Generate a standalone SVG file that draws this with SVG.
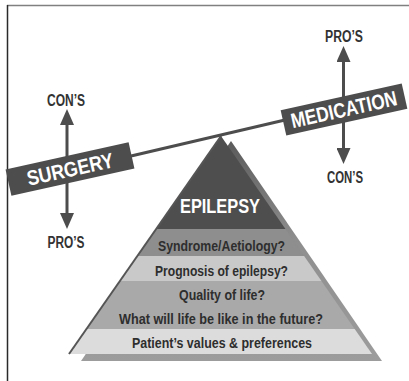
<svg xmlns="http://www.w3.org/2000/svg" width="409" height="381" viewBox="0 0 409 381">
  <style>
    .cond { font-family: "Liberation Sans Narrow", "Liberation Sans", Arial, sans-serif; font-weight: bold; }
    .lbl { font-size: 16px; fill: #333333; text-anchor: middle; }
    .band { font-size: 15px; fill: #2e2e2e; text-anchor: middle; }
    .boxtxt { font-size: 21px; fill: #ffffff; text-anchor: middle; }
    .dark { fill: #4d4d4d; }
    .shaft { stroke: #4d4d4d; stroke-width: 3; fill: none; }
  </style>
  <defs>
    <marker id="head" viewBox="0 0 16 14" refX="7" refY="7" markerWidth="16" markerHeight="14" markerUnits="userSpaceOnUse" orient="auto">
      <path d="M0,0 L16,7 L0,14 Z" fill="#4d4d4d"/>
    </marker>
    <clipPath id="pyr">
      <polygon points="221,136 69,354 372,354"/>
    </clipPath>
    <linearGradient id="shade" gradientUnits="userSpaceOnUse" x1="0" y1="140" x2="0" y2="361">
      <stop offset="0" stop-color="#5a5a5a"/>
      <stop offset="0.45" stop-color="#8e8e8e"/>
      <stop offset="1" stop-color="#9c9c9c"/>
    </linearGradient>
  </defs>

  <rect width="409" height="381" fill="#ffffff"/>

  <!-- panel frame -->
  <g id="frame">
    <line x1="7" y1="5.5" x2="409" y2="5.5" stroke="#808080" stroke-width="1.5"/>
    <line x1="7.5" y1="5" x2="7.5" y2="381" stroke="#2a2a2a" stroke-width="1.5"/>
  </g>

  <!-- pyramid: offset shade, then stacked bands -->
  <g id="epilepsy">
    <polygon points="231,141 81,361 382,361" fill="url(#shade)"/>
    <g clip-path="url(#pyr)">
      <rect x="60" y="130" width="320" height="99" fill="#4e4e4e"/>
      <rect x="60" y="229" width="320" height="27" fill="#8e8e8e"/>
      <rect x="60" y="256" width="320" height="25" fill="#c9c9c9"/>
      <rect x="60" y="281" width="320" height="48" fill="#a9a9a9"/>
      <rect x="60" y="329" width="320" height="25" fill="#dcdcdc"/>
    </g>
    <line x1="221" y1="136" x2="69" y2="354" stroke="#555555" stroke-width="2"/>
    <text class="cond boxtxt" x="220" y="212.5" textLength="80" lengthAdjust="spacingAndGlyphs">EPILEPSY</text>
    <text class="cond band" x="221.5" y="250.5" textLength="127" lengthAdjust="spacingAndGlyphs">Syndrome/Aetiology?</text>
    <text class="cond band" x="221.5" y="276" textLength="133" lengthAdjust="spacingAndGlyphs">Prognosis of epilepsy?</text>
    <text class="cond band" x="222" y="300" textLength="86" lengthAdjust="spacingAndGlyphs">Quality of life?</text>
    <text class="cond band" x="221" y="323.5" textLength="204" lengthAdjust="spacingAndGlyphs">What will life be like in the future?</text>
    <text class="cond band" x="222" y="348" textLength="180" lengthAdjust="spacingAndGlyphs">Patient’s values &amp; preferences</text>
  </g>

  <!-- beam and pro/con arrows, each stopping at the box edges -->
  <g id="connectors">
    <line class="shaft" x1="130" y1="156.2" x2="286" y2="119.8" stroke-width="4"/>
    <line class="shaft" x1="343.5" y1="98" x2="343.5" y2="55" marker-end="url(#head)"/>
    <line class="shaft" x1="343.5" y1="121" x2="343.5" y2="155" marker-end="url(#head)"/>
    <line class="shaft" x1="67" y1="158" x2="67" y2="118" marker-end="url(#head)"/>
    <line class="shaft" x1="67" y1="181" x2="67" y2="220" marker-end="url(#head)"/>
  </g>

  <g id="surgery" transform="translate(70 169) rotate(-12.5)">
    <rect class="dark" x="-63" y="-13.5" width="126" height="27"/>
    <text class="cond boxtxt" x="0" y="7.5" font-size="21" textLength="88" lengthAdjust="spacingAndGlyphs">SURGERY</text>
  </g>

  <g id="medication" transform="translate(344 109.5) rotate(-12.5)">
    <rect class="dark" x="-62" y="-13" width="124" height="26"/>
    <text class="cond boxtxt" x="0" y="7.2" font-size="20.5" textLength="108" lengthAdjust="spacingAndGlyphs">MEDICATION</text>
  </g>

  <g id="labels">
    <text class="cond lbl" x="344" y="41.5" textLength="38" lengthAdjust="spacingAndGlyphs">PRO’S</text>
    <text class="cond lbl" x="345" y="183" textLength="36" lengthAdjust="spacingAndGlyphs">CON’S</text>
    <text class="cond lbl" x="66" y="106" textLength="38" lengthAdjust="spacingAndGlyphs">CON’S</text>
    <text class="cond lbl" x="66" y="248" textLength="37" lengthAdjust="spacingAndGlyphs">PRO’S</text>
  </g>
</svg>
